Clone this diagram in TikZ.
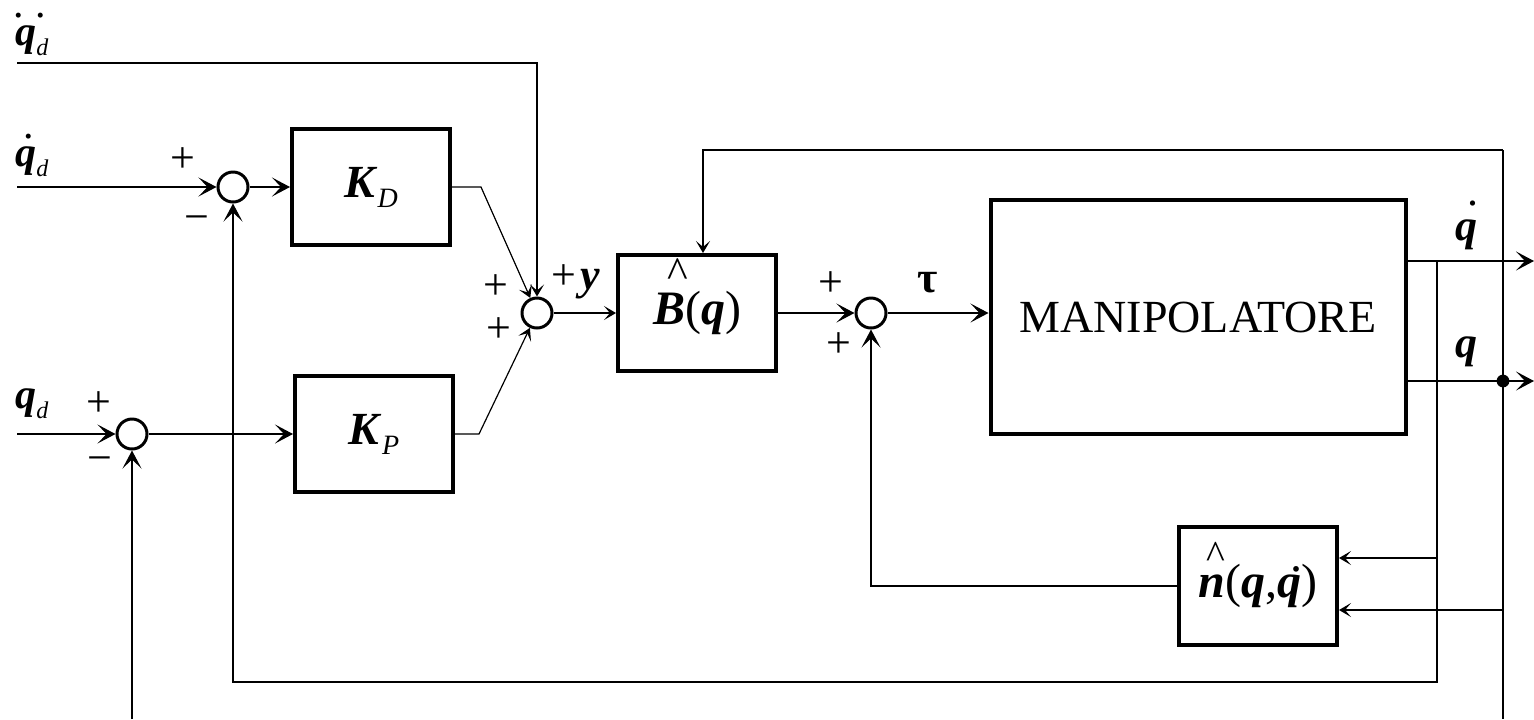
\documentclass[tikz,border=0pt]{standalone}
\usepackage{fontspec}
\setmainfont{Liberation Serif}
\usetikzlibrary{arrows.meta,positioning,calc}
\newcommand{\lblfont}{\fontsize{22}{26}\selectfont}
\newcommand{\bi}[1]{\textbf{\textit{#1}}}
% mark placed over the next glyph: kern, raise, mark
\newcommand{\ovr}[3]{\leavevmode\rlap{\kern#1\smash{\raisebox{#2}{\normalfont#3}}}}
\newcommand{\caret}[1]{\fontsize{#1}{#1}\selectfont\textasciicircum}
\newcommand{\lsub}[3]{\raisebox{-#1}{\normalfont\fontsize{#2}{#2}\selectfont\textit{#3}}}

\begin{document}
\begin{tikzpicture}[x=0.5pt,y=-0.5pt,
		blk/.style={draw,line width=2pt,inner sep=0pt,minimum width=79pt,minimum height=58pt,font=\fontsize{23}{27}\selectfont},
		sumpt/.style={draw,circle,line width=1.5pt,minimum size=15pt,inner sep=0pt},
		wire/.style={line width=0.6pt},
		arr/.style={wire,-{Stealth[length=9pt,width=9.5pt,inset=4.5pt]}},
		sarr/.style={wire,-{Stealth[length=6pt,width=7pt,inset=3pt]}},
		lbl/.style={font=\lblfont,inner sep=0pt},
		inlbl/.style={font=\fontsize{21}{25}\selectfont,inner sep=0pt,anchor=base west}]
		\useasboundingbox (0,0) rectangle (1534,719);
		% summing points
		\node[sumpt] (s1) at (233,187) {};
		\node[sumpt] (s2) at (537,313) {};
		\node[sumpt] (s3) at (132,434) {};
		\node[sumpt] (s4) at (871,313) {};
		% blocks
		\node[blk] (kd) at (371,187) {\bi{K}\lsub{5pt}{14}{D}};
		\node[blk] (kp) at (374,434) {\bi{K}\lsub{5pt}{14}{P}};
		\node[blk,font=\fontsize{24}{28}\selectfont] (bq) at (697,313)
			{\ovr{7.3pt}{18.5pt}{\caret{22}}\bi{B}(\bi{q})};
		\node[blk,minimum width=207.5pt,minimum height=117pt] (man) at (1198,317) {MANIPOLATORE};
		\node[blk,minimum height=59pt,font=\fontsize{24}{28}\selectfont] (nq) at (1258,586)
			{\ovr{3.8pt}{14.5pt}{\caret{20}}\bi{n}(\bi{q},\ovr{6.5pt}{13pt}{.}\bi{q})};
		% branch points and free ends
		\coordinate (qddin) at (17,63);
		\coordinate (dqin) at (17,187);
		\coordinate (qin) at (17,434);
		\coordinate (s3low) at (132,719);
		\coordinate (jdq) at (1437,261);
		\coordinate (jq) at (1503,381);
		\coordinate (dqout) at (1534,261);
		\coordinate (qout) at (1534,381);
		\coordinate (fbtop) at (1503,150);
		\coordinate (fbbot) at (1437,682);
		\coordinate (jqlow) at (1503,719);
		\coordinate (nin1) at (1437,558);
		\coordinate (nin2) at (1503,610);
		% forward path
		\draw[sarr] (qddin) -| (s2.north);
		\draw[arr] (dqin) -- (s1.west);
		\draw[arr] (s1.east) -- (kd.west |- s1.east);
		\draw[arr] (qin) -- (s3.west);
		\draw[arr] (s3.east) -- (kp.west |- s3.east);
		\draw[arr] (s3low) -- (s3.south);
		\draw[sarr] (kd.east) -- ++(29,0) -- (s2);
		\draw[sarr] (kp.east) -- ++(24,0) -- (s2);
		\draw[sarr] (s2.east) -- (bq.west |- s2.east);
		\draw[arr] (bq.east) -- (s4.west);
		\draw[arr] (s4.east) -- (man.west |- s4.east);
		\draw[arr] (man.east |- jdq) -- (dqout);
		\draw[arr] (man.east |- jq) -- (qout);
		% feedback
		\draw[arr] (jdq) -- (fbbot) -| (s1.south);
		\draw[sarr] (nin1) -- (nq.east |- nin1);
		\draw[wire] (fbtop) -- (jqlow);
		\draw[sarr] (fbtop) -| ([xshift=3pt]bq.north);
		\draw[sarr] (nin2) -- (nq.east |- nin2);
		\draw[arr] (nq.west) -| (s4.south);
		\fill (jq) circle (3.2pt);
		% signals
		\node[inlbl] (lqdd) at (15,45) {\ovr{-1pt}{14pt}{.\kern6pt.}\bi{q}\lsub{5pt}{12}{d}};
		\node[inlbl] (lqd1) at (15,166) {\ovr{4pt}{14pt}{.}\bi{q}\lsub{5pt}{12}{d}};
		\node[inlbl] (lqd0) at (15,408) {\bi{q}\lsub{5pt}{12}{d}};
		\node[lbl,anchor=base west] (ldq) at (1455,240) {\ovr{5.8pt}{17.5pt}{.}\bi{q}};
		\node[lbl,anchor=base west] (lq) at (1455,357) {\bi{q}};
		\node[lbl] (ltau) at (928,283) {\textbf{τ}};
		\node[lbl] (ly) at (576,282) {+\kern2pt\bi{y}};
		% signs
		\node[lbl] (p1) at (183,160) {+};
		\node[lbl] (m1) at (197,224) {−};
		\node[lbl] (p3) at (99,404) {+};
		\node[lbl] (m3) at (100,465) {−};
		\node[lbl] (p2a) at (496,287) {+};
		\node[lbl] (p2b) at (499,330) {+};
		\node[lbl] (p4a) at (831,284) {+};
		\node[lbl] (p4b) at (839,345) {+};
	\end{tikzpicture}
\end{document}
